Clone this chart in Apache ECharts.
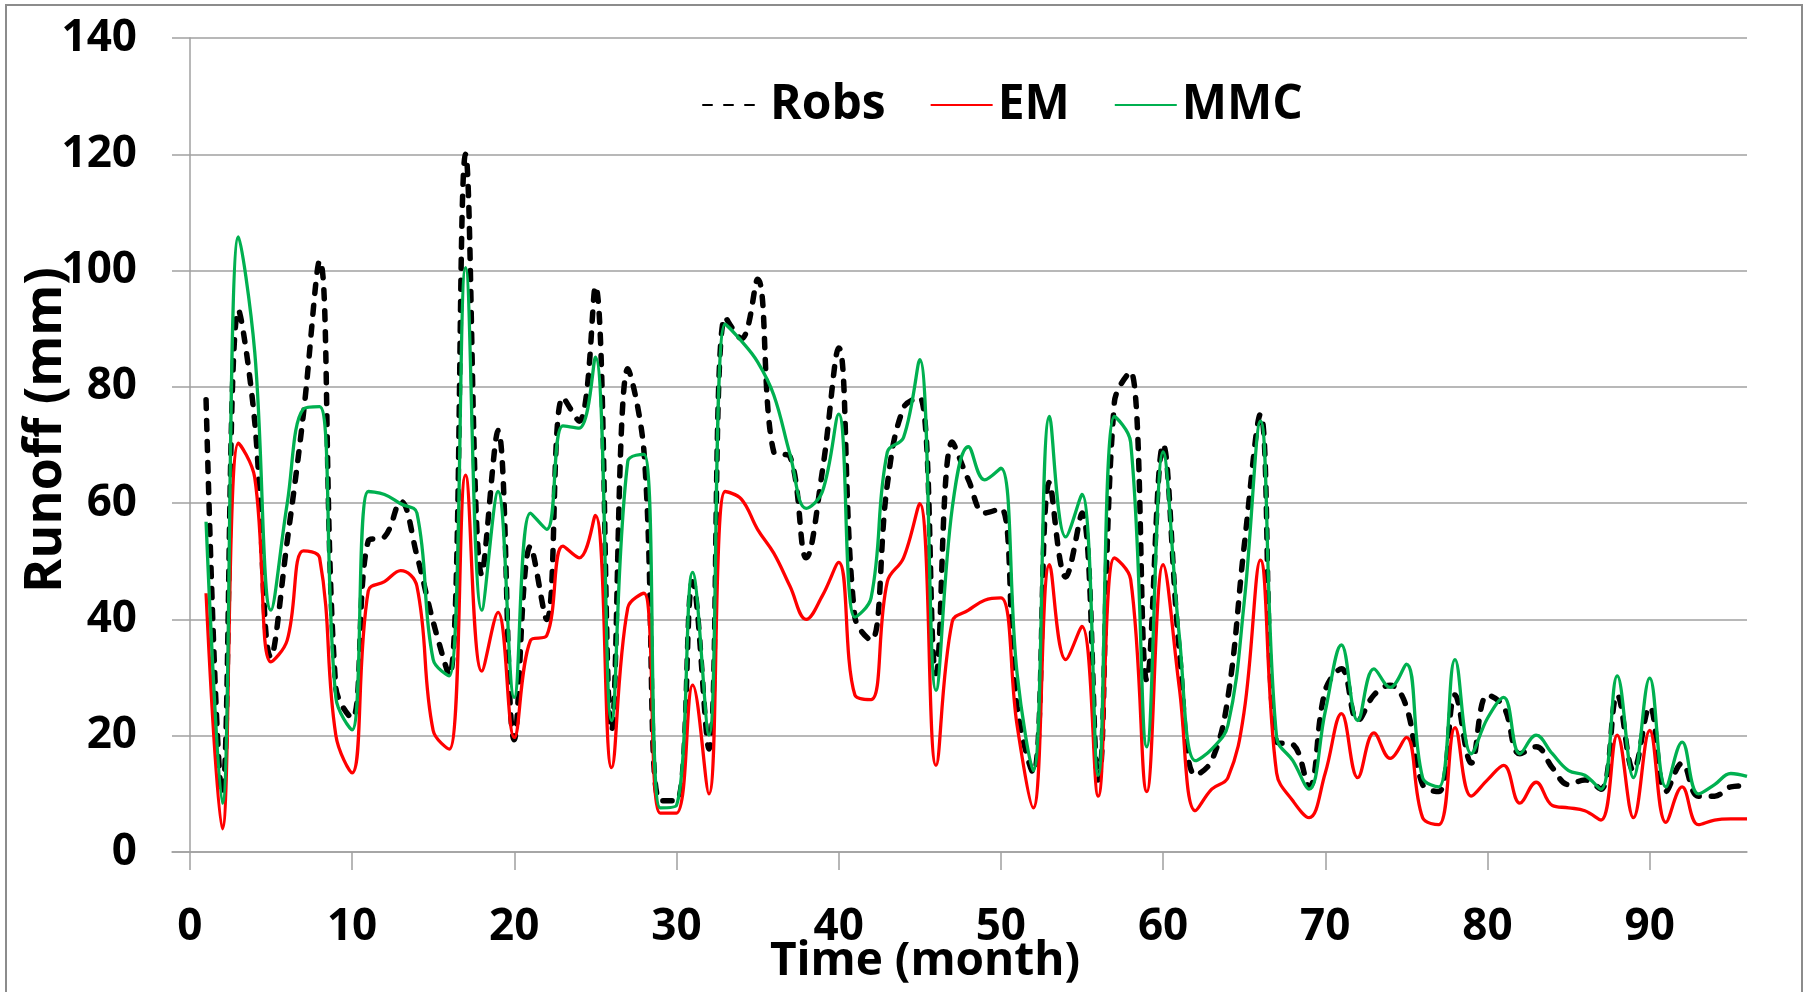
<!DOCTYPE html>
<html>
<head>
<meta charset="utf-8">
<title>Runoff</title>
<script src="https://cdn.jsdelivr.net/npm/echarts@6/dist/echarts.min.js"></script>
<style>
html,body{margin:0;padding:0;background:#fff;}
#main{width:1808px;height:992px;}
</style>
</head>
<body>
<div id="main"></div>
<script>
// monthly runoff (mm)
var robs=[77.8,10,93.2,74,33.5,53.4,75.3,101.7,28.3,23,53.5,54.2,60.3,51,39.6,30.3,120,47.7,72.5,19.3,
	52.6,40,78.2,74.1,97.3,20.9,83.1,68.8,8.8,8.8,46.5,17.7,92,88.3,98.5,68.8,68,50.6,65.6,86.7,
	40.4,36.4,63.2,76.4,78.2,30.7,70.5,64,58.3,59.1,25,13.6,63.6,47.3,58.3,12.4,77.4,82.6,29.5,70.1,
	34.7,13.2,15.7,26.6,52.6,75.3,18.9,18.5,11.2,27.8,31.5,22.6,27,28.7,25,11.6,10.4,27,15.3,27,
	25,16.9,18.1,14.5,11.6,12.4,10.8,27,14,25,10.4,15.3,9.6,9.6,11.2,11.4];
var em=[44.5,4,70.3,64.4,32.7,36.4,51.8,50.6,20.1,13.6,44.9,46.5,48.4,45.7,20.9,17.7,64.8,31.1,41.2,19.7,
	36.4,37.2,52.6,50.6,57.9,14.5,42,44.5,6.7,6.7,28.7,10,62,60.7,55.5,51.4,45.7,40,44.1,49.8,
	27,26.2,46.5,50.6,59.9,14.9,39.6,41.6,43.3,43.7,21.8,7.6,49.4,33.1,38.8,9.6,50.6,46.9,10.4,49.4,
	28.3,7.1,10.8,12.8,24.2,50.2,13.6,8.8,5.9,13.6,23.8,12.8,20.5,16.1,19.7,5.9,4.7,21.4,9.6,12.4,
	14.9,8.4,12,8,7.6,7.1,5.5,20.1,5.9,20.9,5.1,11.2,4.7,5.5,5.7,5.7];
var mmc=[56.8,8.4,105.8,86,41.6,59.9,76.2,76.6,26.6,21,62,61.5,59.9,58.3,33.1,30.3,100.5,41.6,62,26.6,
	58.3,55.5,73.3,72.9,85.1,22.6,67.2,68.4,7.6,8,48.1,20.1,90.8,87.9,84.3,78.6,68.4,59.1,62,75.3,
	40.4,43.7,68.8,71.3,84.7,27.8,59.1,69.7,64,66,30.7,14,74.9,54.2,61.5,13.2,74.9,70.5,18.1,68.8,
	37.2,15.7,17.7,21.8,42.9,74.1,19.7,15.7,10.8,24.2,35.6,22.6,31.5,28.3,32.3,12.8,11.2,33.1,16.9,23,
	26.6,16.9,20.1,16.9,14,13.2,10.8,30.3,12.8,29.9,11.2,18.9,10,11.6,13.5,13];
var xTicks=[0,10,20,30,40,50,60,70,80,90];
var names=['Robs','EM','MMC'];

var FONT='"Open Sans", "Noto Sans", sans-serif';
var GRAY='#a0a0a0';

//month number -> [x,y]
function pairs(arr){
	var out=[];
	for(var i=0;i<arr.length;i++){
		out.push([i+1,arr[i]]);
	}
	return out;
}

var myChart=echarts.init(document.getElementById('main'));

var option={
	backgroundColor:'#fff',
	animation:false,
	grid:{left:172,right:61,top:38,bottom:140},
	legend:{
		data:[names[0],{name:names[1],textStyle:{width:80}},names[2]],
		left:697,
		top:76,
		itemWidth:62,
		itemHeight:16,
		itemGap:44,
		itemStyle:{opacity:0},
		textStyle:{fontFamily:FONT,fontWeight:'bold',fontSize:48,color:'#000'}
	},
	xAxis:{
		type:'value',
		min:-1.1,
		max:96,
		splitLine:{show:false},
		axisLine:{lineStyle:{color:GRAY,width:1.5}},
		axisTick:{customValues:xTicks,length:18,lineStyle:{color:GRAY,width:1.5}},
		axisLabel:{customValues:xTicks,margin:53,fontFamily:FONT,fontWeight:'bold',fontSize:44,color:'#000'}
	},
	yAxis:{
		type:'value',
		min:0,
		max:140,
		interval:20,
		axisLine:{show:true,onZero:true,lineStyle:{color:GRAY,width:1.5}},
		axisTick:{show:false},
		splitLine:{lineStyle:{color:GRAY,width:1.5}},
		axisLabel:{margin:35,fontFamily:FONT,fontWeight:'bold',fontSize:44,color:'#000'}
	},
	series:[
		{name:names[0],type:'line',data:pairs(robs),smooth:0.4,symbol:'none',
			lineStyle:{color:'#000',width:5.5,type:[9,12],cap:'round'},itemStyle:{color:'#000'}},
		{name:names[1],type:'line',data:pairs(em),smooth:0.4,symbol:'none',
			lineStyle:{color:'#ff0000',width:3.3},itemStyle:{color:'#ff0000'}},
		{name:names[2],type:'line',data:pairs(mmc),smooth:0.4,symbol:'none',
			lineStyle:{color:'#00b050',width:3.3},itemStyle:{color:'#00b050'}}
	],
	graphic:[
		{type:'rect',shape:{x:6,y:5,width:1796,height:1000},
			style:{fill:'none',stroke:'#8c8c8c',lineWidth:2},silent:true},
		{type:'text',x:925,y:962,
			style:{text:'Time (month)',fontFamily:FONT,fontWeight:'bold',fontSize:46,fill:'#000',
				textAlign:'center',textVerticalAlign:'middle'}},
		{type:'text',x:46,y:430,rotation:Math.PI/2,
			style:{text:'Runoff (mm)',fontFamily:FONT,fontWeight:'bold',fontSize:52,fill:'#000',
				textAlign:'center',textVerticalAlign:'middle'}}
	]
};
myChart.setOption(option);
</script>
</body>
</html>
